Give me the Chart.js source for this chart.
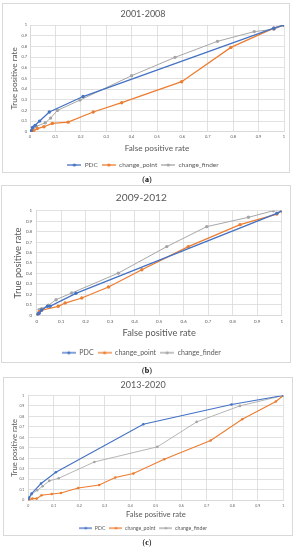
<!DOCTYPE html>
<html><head><meta charset="utf-8">
<script src="https://cdn.jsdelivr.net/npm/chart.js@4.4.0/dist/chart.umd.min.js"></script>
<style>
html,body{margin:0;padding:0;background:#fff;width:294px;height:550px;overflow:hidden;position:relative}
.box{position:absolute;border:1px solid #d9d9d9;box-sizing:border-box}
canvas{position:absolute}
.cap{position:absolute;left:0;width:294px;text-align:center;font-family:"Liberation Serif",serif;font-size:8px;color:#000;line-height:10px}
</style></head><body>
<div class="box" style="left:2px;top:3px;width:288px;height:170px"></div>
<div class="box" style="left:1px;top:185px;width:290px;height:178px"></div>
<div class="box" style="left:3px;top:377px;width:290px;height:159px"></div>
<canvas id="c1" width="288" height="176" style="left:2px;top:3px"></canvas>
<canvas id="c2" width="289" height="182" style="left:1px;top:185px"></canvas>
<canvas id="c3" width="290" height="164" style="left:3px;top:377px"></canvas>
<div class="cap" style="top:175px">(<b>a</b>)</div>
<div class="cap" style="top:366px">(<b>b</b>)</div>
<div class="cap" style="top:538px">(<b>c</b>)</div>
<script>
// ---------- DATA ----------
const chartTitles = ['2001-2008', '2009-2012', '2013-2020'];
const seriesNames = ['PDC', 'change_point', 'change_finder'];
const tickLabels = ['0', '0.1', '0.2', '0.3', '0.4', '0.5', '0.6', '0.7', '0.8', '0.9', '1'];
const xTitle = 'False positive rate';
const yTitle = 'True positive rate';

// 2001-2008
const pdcX1 = [0, 0.005, 0.01, 0.02, 0.038, 0.076, 0.209, 0.96, 1];
const pdcY1 = [0, 0.01, 0.04, 0.06, 0.10, 0.185, 0.33, 0.97, 1];
const cpX1 = [0, 0.01, 0.015, 0.029, 0.055, 0.088, 0.15, 0.249, 0.361, 0.597, 0.791, 0.96, 1];
const cpY1 = [0, 0.005, 0.01, 0.03, 0.047, 0.078, 0.09, 0.185, 0.272, 0.469, 0.79, 0.97, 1];
const cfX1 = [0, 0.005, 0.012, 0.025, 0.06, 0.081, 0.108, 0.197, 0.4, 0.571, 0.738, 0.883, 0.96, 1];
const cfY1 = [0, 0.005, 0.03, 0.05, 0.084, 0.128, 0.2, 0.297, 0.525, 0.697, 0.847, 0.938, 0.96, 1];

// 2009-2012
const pdcX2 = [0, 0.005, 0.01, 0.02, 0.044, 0.054, 0.16, 0.98, 1];
const pdcY2 = [0, 0.01, 0.02, 0.05, 0.086, 0.086, 0.21, 0.975, 1];
const cpX2 = [0, 0.004, 0.011, 0.02, 0.088, 0.116, 0.184, 0.293, 0.429, 0.619, 0.83, 0.98, 1];
const cpY2 = [0, 0.01, 0.035, 0.048, 0.086, 0.117, 0.165, 0.27, 0.435, 0.657, 0.867, 0.968, 1];
const cfX2 = [0, 0.003, 0.01, 0.02, 0.048, 0.079, 0.143, 0.333, 0.531, 0.694, 0.864, 0.966, 1];
const cfY2 = [0, 0.016, 0.054, 0.063, 0.095, 0.149, 0.213, 0.403, 0.657, 0.848, 0.937, 1.0, 1];

// 2013-2020
const pdcX3 = [0, 0.003, 0.013, 0.05, 0.108, 0.451, 0.797, 1];
const pdcY3 = [0, 0.025, 0.064, 0.16, 0.268, 0.726, 0.914, 1];
const cpX3 = [0, 0.004, 0.016, 0.033, 0.052, 0.092, 0.128, 0.196, 0.278, 0.341, 0.412, 0.533, 0.715, 0.839, 0.971, 1];
const cpY3 = [0, 0.006, 0.016, 0.016, 0.048, 0.06, 0.07, 0.118, 0.146, 0.217, 0.255, 0.392, 0.57, 0.774, 0.943, 1];
const cfX3 = [0, 0.004, 0.013, 0.035, 0.056, 0.082, 0.119, 0.259, 0.506, 0.66, 0.83, 1];
const cfY3 = [0, 0.032, 0.057, 0.096, 0.134, 0.185, 0.21, 0.366, 0.51, 0.748, 0.901, 1];

// ---------- STYLE ----------
const colors = ['#4472C4', '#ED7D31', '#A5A5A5'];
const FONT = 'Lato';
const TXT = '#595959';

function pts(xs, ys) { return xs.map((x, i) => ({x: x, y: ys[i]})); }

function legendIcon(color, w, r) {
  const c = document.createElement('canvas');
  c.width = w; c.height = 6;
  const g = c.getContext('2d');
  g.strokeStyle = color; g.lineWidth = 1.3;
  g.beginPath(); g.moveTo(0, 3); g.lineTo(w, 3); g.stroke();
  g.fillStyle = color;
  g.beginPath(); g.arc(w / 2, 3, r, 0, Math.PI * 2); g.fill();
  return c;
}

function make(id, title, series, L) {
  const icons = colors.map(c => legendIcon(c, L.iconW, L.iconR));
  const datasets = series.map((s, i) => ({
    label: seriesNames[i],
    data: pts(s[0], s[1]),
    showLine: true,
    borderColor: colors[i],
    backgroundColor: colors[i],
    borderWidth: i === 2 ? L.lw * 0.75 : L.lw,
    pointRadius: L.pr,
    pointBorderWidth: 0,
    pointHoverRadius: L.pr,
    tension: 0
  }));
  new Chart(document.getElementById(id), {
    type: 'scatter',
    data: {datasets},
    options: {
      responsive: false,
      animation: false,
      events: [],
      layout: {padding: {left: 0, right: L.padR, top: 0, bottom: L.padB}},
      plugins: {
        tooltip: {enabled: false},
        title: {
          display: true, text: title, color: TXT,
          font: {family: FONT, size: L.titleSize, weight: 'normal', lineHeight: 1.2},
          padding: {top: L.titlePT, bottom: L.titlePB}
        },
        legend: {
          position: 'bottom',
          labels: {
            color: TXT,
            font: {family: FONT, size: L.legSize},
            usePointStyle: true,
            pointStyleWidth: L.iconW,
            padding: L.legPad,
            generateLabels: (chart) => {
              const items = Chart.defaults.plugins.legend.labels.generateLabels(chart);
              items.forEach((it, i) => { it.pointStyle = icons[i]; });
              return items;
            }
          }
        }
      },
      scales: {
        x: {
          type: 'linear', min: 0, max: 1,
          afterFit: (s) => { s.height = L.xH; },
          grid: {color: '#d9d9d9', lineWidth: 0.8, drawTicks: false},
          border: {color: '#d9d9d9'},
          ticks: {
            stepSize: 0.1, padding: L.tickPadX, color: TXT, maxRotation: 0, autoSkip: false,
            font: {family: FONT, size: L.tickSize, lineHeight: 1.2},
            callback: (v, i) => tickLabels[i]
          },
          title: {display: true, text: xTitle, color: TXT,
            font: {family: FONT, size: L.axSize, lineHeight: 1.2},
            padding: {top: 0, bottom: L.xTitlePB}}
        },
        y: {
          type: 'linear', min: 0, max: 1,
          afterFit: (s) => { s.width = L.yW; },
          grid: {color: '#d9d9d9', lineWidth: 0.8, drawTicks: false},
          border: {color: '#d9d9d9'},
          ticks: {
            stepSize: 0.1, padding: L.tickPadY, color: TXT, autoSkip: false,
            font: {family: FONT, size: L.tickSize, lineHeight: 1.2},
            callback: (v, i) => tickLabels[i]
          },
          title: {display: true, text: yTitle, color: TXT,
            font: {family: FONT, size: L.axSize, lineHeight: 1.2},
            padding: {top: L.yTitlePT, bottom: 0}}
        }
      }
    }
  });
}

make('c1', chartTitles[0], [[pdcX1, pdcY1], [cpX1, cpY1], [cfX1, cfY1]], {
  padR: 6, padB: 0.75, titleSize: 9, titlePT: 5.6, titlePB: 5.6,
  legSize: 6.5, legPad: 4, iconW: 14, iconR: 1.6,
  xH: 26, tickPadX: 2.5, tickSize: 4, axSize: 8.2, xTitlePB: 4.8,
  yW: 28, tickPadY: 3, yTitlePT: 7.2, lw: 1.3, pr: 1.7
});
make('c2', chartTitles[1], [[pdcX2, pdcY2], [cpX2, cpY2], [cfX2, cfY2]], {
  padR: 8.3, padB: 0.75, titleSize: 10.2, titlePT: 6.4, titlePB: 7.1,
  legSize: 7, legPad: 4, iconW: 14, iconR: 1.6,
  xH: 30, tickPadX: 4, tickSize: 4.5, axSize: 9.3, xTitlePB: 6.4,
  yW: 35.7, tickPadY: 4.5, yTitlePT: 11.6, lw: 1.3, pr: 1.7
});
make('c3', chartTitles[2], [[pdcX3, pdcY3], [cpX3, cpY3], [cfX3, cfY3]], {
  padR: 9.7, padB: 0.25, titleSize: 9, titlePT: 2.6, titlePB: 5.1,
  legSize: 5.2, legPad: 4, iconW: 13, iconR: 1.3,
  xH: 21.25, tickPadX: 3.6, tickSize: 3.5, axSize: 7.6, xTitlePB: 2.8,
  yW: 25.3, tickPadY: 4, yTitlePT: 6.6, lw: 1.1, pr: 1.3
});
</script>
</body></html>
